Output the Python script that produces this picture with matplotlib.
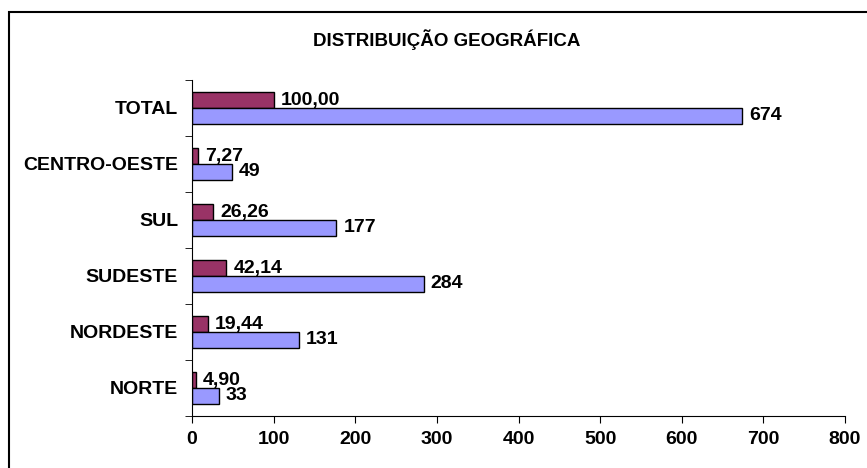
import matplotlib
matplotlib.use("Agg")
import matplotlib.pyplot as plt
from matplotlib.patches import Rectangle
import numpy as np

plt.rcParams['font.family'] = ['Liberation Sans', 'DejaVu Sans']

categories = ["NORTE", "NORDESTE", "SUDESTE", "SUL", "CENTRO-OESTE", "TOTAL"]
percent = [4.90, 19.44, 42.14, 26.26, 7.27, 100.00]
counts = [33, 131, 284, 177, 49, 674]
xticks = [0, 100, 200, 300, 400, 500, 600, 700, 800]

fig = plt.figure(figsize=(8.67, 4.68), dpi=100)
fig.patches.append(Rectangle((9/867, -2), 5, 2 + 1 - 12/468, transform=fig.transFigure,
                             fill=False, edgecolor='black', linewidth=1.5))
ax = fig.add_axes([192/867, 1 - 416/468, (845 - 192)/867, (416 - 80)/468])

y = np.arange(len(categories))
h = 0.28
ax.barh(y + h/2, percent, height=h, color='#993366', edgecolor='black', linewidth=1)
ax.barh(y - h/2, counts, height=h, color='#9999FF', edgecolor='black', linewidth=1)

fs = 14
for yi, p, c in zip(y, percent, counts):
    ax.annotate(f"{p:.2f}".replace('.', ','), (p, yi + h/2), xytext=(5, 0),
                textcoords='offset points', va='center', ha='left',
                fontsize=fs, fontweight='bold')
    ax.annotate(f"{c}", (c, yi - h/2), xytext=(5, 0),
                textcoords='offset points', va='center', ha='left',
                fontsize=fs, fontweight='bold')

ax.set_xlim(0, 800)
ax.set_ylim(-0.5, len(categories) - 0.5)
ax.set_xticks(xticks)
ax.set_xticklabels([str(v) for v in xticks], fontsize=fs, fontweight='bold')
ax.set_yticks(y)
ax.set_yticklabels(categories, fontsize=fs, fontweight='bold')
ax.tick_params(axis='y', length=0, pad=10)
ax.set_yticks(np.arange(len(categories) + 1) - 0.5, minor=True)
ax.tick_params(axis='y', which='minor', length=5, direction='out')
ax.tick_params(axis='x', length=5, direction='out', pad=6)
for s in ['top', 'right']:
    ax.spines[s].set_visible(False)

fig.text(447/867, 1 - 40/468, "DISTRIBUIÇÃO GEOGRÁFICA", ha='center', va='center',
         fontsize=13.5, fontweight='bold')

fig.savefig("out.png", dpi=100)
